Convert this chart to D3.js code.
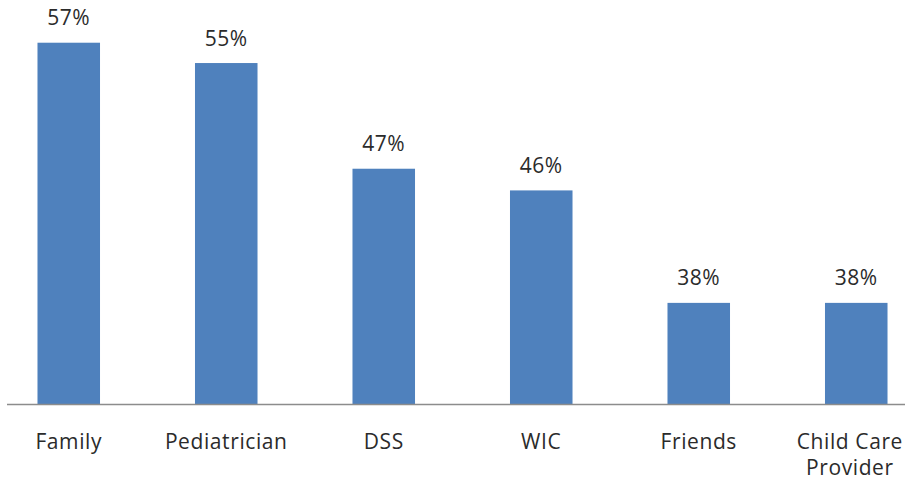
<!DOCTYPE html>
<html>
<head>
<meta charset="utf-8">
<script src="https://cdn.jsdelivr.net/npm/d3@7"></script>
<style>
  body { margin: 0; background: #fff; }
  svg { display: block; }
  text { font-family: "Open Sans", sans-serif; fill: #2b2b2b; }
</style>
</head>
<body>
<div id="chart"></div>
<script>
// Categories and their values (%)
var categories = ["Family", "Pediatrician", "DSS", "WIC", "Friends", "Child Care Provider"];
var values = [56.7, 55.2, 47.4, 45.8, 37.5, 37.5];
var yDomain = [30, 60];

function init() {
    var w = 905;
    var h = 482;

    var svg = d3.select("#chart")
        .append("svg")
        .attr("width", w)
        .attr("height", h);

    // band scale is a bit wider than the window, the original is cropped on both sides
    var xScale = d3.scaleBand()
        .domain(categories)
        .range([-10, 935])
        .paddingInner(0.603)
        .paddingOuter(0.3015);

    var yScale = d3.scaleLinear()
        .domain(yDomain)
        .range([404.5, -2]);

    // bars
    svg.selectAll("rect.bar")
        .data(values)
        .enter()
        .append("rect")
        .attr("class", "bar")
        .attr("x", function(d, i) { return xScale(categories[i]); })
        .attr("y", function(d) { return yScale(d); })
        .attr("width", xScale.bandwidth())
        .attr("height", function(d) { return yScale(yDomain[0]) - yScale(d); })
        .attr("fill", "#4f81bd");

    // value labels
    svg.selectAll("text.val")
        .data(values)
        .enter()
        .append("text")
        .attr("class", "val")
        .attr("text-anchor", "middle")
        .attr("font-size", 21)
        .attr("letter-spacing", 0.6)
        .attr("x", function(d, i) { return xScale(categories[i]) + xScale.bandwidth() / 2; })
        .attr("y", function(d) { return yScale(d) - 17.5; })
        .text(function(d) { return Math.round(d) + "%"; });

    // x axis line
    svg.append("line")
        .attr("x1", 7)
        .attr("x2", w)
        .attr("y1", yScale(yDomain[0]))
        .attr("y2", yScale(yDomain[0]))
        .attr("stroke", "#8c8c8c")
        .attr("stroke-width", 1.5);

    // category labels, long ones wrap onto two lines
    var labels = svg.selectAll("text.cat")
        .data(categories)
        .enter()
        .append("text")
        .attr("class", "cat")
        .attr("text-anchor", "middle")
        .attr("font-size", 21)
        .attr("letter-spacing", 0.6)
        .attr("y", 449);

    labels.each(function(d) {
        var t = d3.select(this);
        var cx = xScale(d) + xScale.bandwidth() / 2;
        var lines = d === "Child Care Provider" ? ["Child Care", "Provider"] : [d];
        lines.forEach(function(line, k) {
            t.append("tspan")
                .attr("x", cx)
                .attr("dy", k === 0 ? 0 : 26)
                .text(line);
        });
        // keep the last label inside the window
        var box = this.getBBox();
        if (box.x + box.width > w - 2) {
            var shift = box.x + box.width - (w - 2);
            t.selectAll("tspan").attr("x", cx - shift);
        }
    });
}

window.onload = init;
</script>
</body>
</html>
